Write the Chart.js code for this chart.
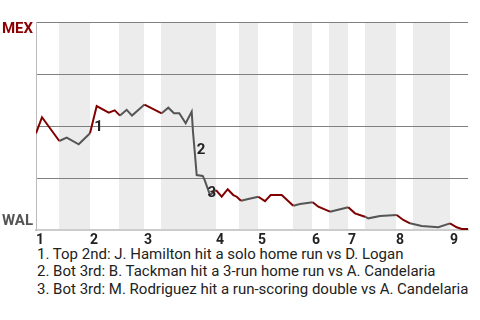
<!DOCTYPE html>
<html>
<head>
<meta charset="utf-8">
<script src="https://cdn.jsdelivr.net/npm/chart.js@4"></script>
<style>
  body { margin: 0; background: #fff; }
  .wrap { position: relative; width: 480px; height: 245px; }
  .notes {
    position: absolute; left: 37px; top: 245.5px;
    font: 15px Roboto, sans-serif; line-height: 17.5px; color: #222;
    white-space: nowrap;
  }
</style>
</head>
<body>
<div class="wrap"><canvas id="wp"></canvas></div>
<div class="notes" id="notes"></div>
<script>
// innings along the bottom, x in "game time" units (0 .. gameEnd)
const innings = ['1', '2', '3', '4', '5', '6', '7', '8', '9']
const inningStart = [0, 54, 108, 180, 222, 276, 312, 360, 414]
const bottomStart = [23, 83, 125, 203, 257, 293, 329, 377]
const gameEnd = 432

// MEX win probability (%) after each event
const eventX = [0, 6, 23.3, 30.7, 42.7, 54, 60.7, 72.7, 78.7, 84, 90.7, 96, 108.5,
    125.7, 132.3, 138, 143.3, 149.7, 155.7, 157, 159, 160.7, 166.7, 168.7, 174,
    180, 185.7, 191.7, 197.3, 200.7, 205, 212.3, 222.3, 229, 234.7, 245.7, 257.3,
    264, 276.7, 282.3, 294, 312.3, 319, 329, 332.3, 344, 360.7, 367.3, 374, 385.7,
    402.3, 414, 420.7, 425.7, 432]
const mexProb = [46.5, 54.2, 42.8, 44.4, 41.2, 46.5, 59.6, 56.4, 57.5, 55.0, 57.8, 55.0, 60.3,
    56.1, 58.8, 56.1, 56.1, 51.3, 56.9, 47.1, 36.1, 26.4, 26.0, 24.0, 16.8,
    19.2, 16.0, 19.6, 16.8, 16.0, 14.1, 14.9, 16.0, 13.9, 16.8, 16.8, 11.7,
    12.5, 13.3, 11.2, 8.8, 10.9, 8.0, 6.4, 5.6, 6.7, 7.2, 4.8, 3.2, 1.9,
    1.3, 3.2, 1.3, 0.5, 0.5]

// key moments
const noteX = [62.5, 165, 175.7]
const noteY = [49.3, 38.2, 17.5]
const noteText = [
    'Top 2nd: J. Hamilton hit a solo home run vs D. Logan',
    'Bot 3rd: B. Tackman hit a 3-run home run vs A. Candelaria',
    'Bot 3rd: M. Rodriguez hit a run-scoring double vs A. Candelaria'
]

const RED = '#800000'
const GRAY = '#555555'

document.getElementById('notes').innerHTML =
    noteText.map((t, i) => `<div>${i + 1}. ${t}</div>`).join('')

function isBottomHalf(x) {
    for (let i = 0; i < bottomStart.length; i++) {
        const end = inningStart[i + 1] !== undefined ? inningStart[i + 1] : gameEnd
        if (x >= bottomStart[i] && x < end) return true
    }
    return false
}

const bands = {
    id: 'bands',
    beforeDraw(chart) {
        const { ctx, chartArea, scales } = chart
        ctx.save()
        ctx.fillStyle = '#ececec'
        bottomStart.forEach((b, i) => {
            const end = inningStart[i + 1] !== undefined ? inningStart[i + 1] : gameEnd
            const x0 = scales.x.getPixelForValue(b)
            const x1 = scales.x.getPixelForValue(end)
            ctx.fillRect(x0, chartArea.top, x1 - x0, chartArea.bottom - chartArea.top)
        })
        ctx.restore()
    },
    afterDraw(chart) {
        const { ctx, scales } = chart
        ctx.save()
        ctx.font = 'bold 15px Roboto, sans-serif'
        ctx.textAlign = 'right'
        ctx.textBaseline = 'middle'
        ctx.fillStyle = '#8b0000'
        ctx.fillText('MEX', 33, scales.y.getPixelForValue(100) + 7)
        ctx.fillStyle = '#555'
        ctx.fillText('WAL', 33, scales.y.getPixelForValue(0) - 9)

        ctx.textAlign = 'center'
        ctx.fillStyle = '#222'
        noteX.forEach((x, i) => {
            ctx.fillText(String(i + 1), scales.x.getPixelForValue(x), scales.y.getPixelForValue(noteY[i]))
        })
        ctx.restore()
    }
}

new Chart(document.getElementById('wp'), {
    type: 'line',
    data: {
        datasets: [{
            data: eventX.map((x, i) => ({ x: x, y: mexProb[i] })),
            borderWidth: 2,
            borderColor: RED,
            pointRadius: 0,
            tension: 0,
            segment: {
                borderColor: c => isBottomHalf((c.p0.parsed.x + c.p1.parsed.x) / 2) ? GRAY : RED
            }
        }]
    },
    options: {
        responsive: true,
        maintainAspectRatio: false,
        animation: false,
        layout: { padding: { top: 22, right: 12, left: 0, bottom: 0 } },
        plugins: { legend: { display: false }, tooltip: { enabled: false } },
        scales: {
            x: {
                type: 'linear',
                min: 0,
                max: gameEnd,
                afterBuildTicks: s => { s.ticks = inningStart.map(v => ({ value: v })) },
                afterFit: s => { s.height = 15 },
                grid: { display: false, drawTicks: false },
                border: { color: '#cccccc', width: 2 },
                ticks: {
                    autoSkip: false,
                    maxRotation: 0,
                    align: 'start',
                    padding: 2,
                    color: '#222',
                    font: { family: 'Roboto', size: 14, weight: 'bold' },
                    callback: (v, i) => innings[i]
                }
            },
            y: {
                min: 0,
                max: 100,
                afterFit: s => { s.width = 36 },
                ticks: { stepSize: 25, display: false },
                grid: {
                    drawTicks: false,
                    color: c => c.tick.value === 0 ? 'rgba(0,0,0,0)' : '#808080'
                },
                border: { color: '#bbbbbb', width: 1 }
            }
        }
    },
    plugins: [bands]
})
</script>
</body>
</html>
